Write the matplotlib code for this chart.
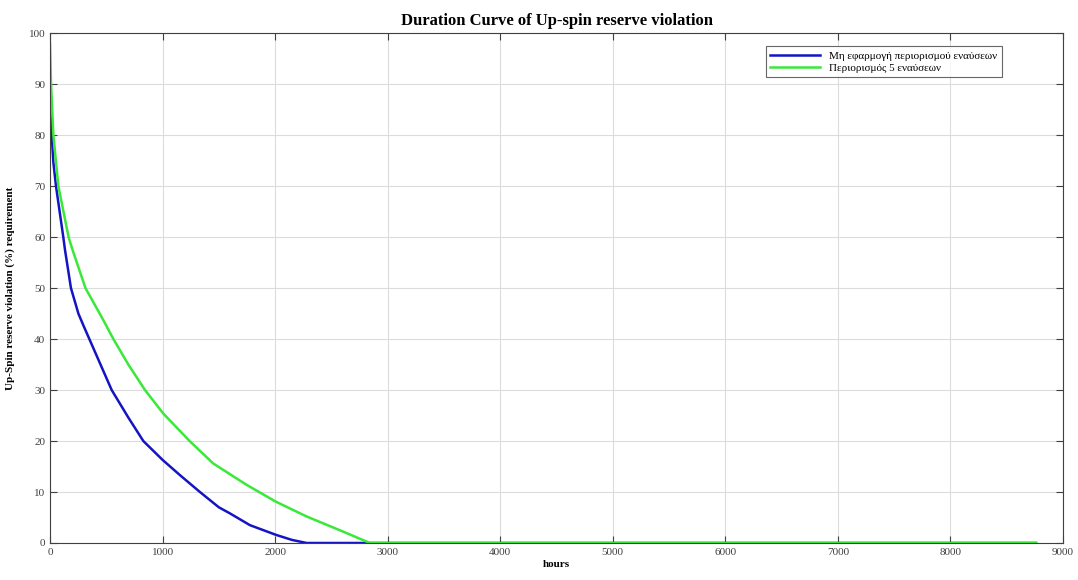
import matplotlib
matplotlib.use("Agg")
import matplotlib.pyplot as plt
from matplotlib.ticker import MultipleLocator

# duration curve points, hours vs. violation (%)
base_hours = [0, 15, 30, 53, 118, 133, 186, 252, 300, 548, 696, 829, 1000, 1155, 1332, 1500, 1599, 1776, 2007, 2150, 2280, 8760]
base_values = [85.5, 80, 74.6, 70, 60, 57.5, 50, 45, 42.5, 30, 24.6, 20, 16.3, 13.3, 10, 7.0, 5.8, 3.5, 1.6, 0.6, 0, 0]
limit_hours = [0, 9, 30, 74, 165, 200, 315, 474, 563, 696, 844, 1006, 1240, 1450, 1747, 2007, 2280, 2575, 2842, 8760]
limit_values = [98, 90, 80, 70, 60, 57.5, 50, 43.7, 40, 35, 30, 25.4, 20, 15.6, 11.4, 8.1, 5.2, 2.5, 0, 0]
labels = ["Μη εφαρμογή περιορισμού εναύσεων", "Περιορισμός 5 εναύσεων"]

plt.rcParams["font.family"] = ["Liberation Serif", "DejaVu Serif"]

figure = plt.figure(figsize = (10.78, 5.8), dpi = 100)
axes = figure.add_axes([0.0464, 0.0638, 0.9397, 0.879])
axes.plot(base_hours, base_values, color = "#1414c4", linewidth = 1.8, label = labels[0])
axes.plot(limit_hours, limit_values, color = "#3ae83a", linewidth = 1.8, label = labels[1])

axes.set_xlim(0, 9000)
axes.set_ylim(0, 100)
axes.xaxis.set_major_locator(MultipleLocator(1000))
axes.yaxis.set_major_locator(MultipleLocator(10))
axes.grid(True, color = "#dcdcdc", linewidth = 0.8)
axes.tick_params(direction = "in", top = True, right = True, labelsize = 8, colors = "#404040", length = 5)
for spine in axes.spines.values():
    spine.set_color("#404040")
    spine.set_linewidth(0.8)

axes.set_title("Duration Curve of Up-spin reserve violation", fontsize = 12, fontweight = "bold", pad = 6)
axes.set_xlabel("hours", fontsize = 8, fontweight = "bold", labelpad = 2)
axes.set_ylabel("Up-Spin reserve violation (%) requirement", fontsize = 8, fontweight = "bold", labelpad = 10)

legend = axes.legend(loc = "upper right", bbox_to_anchor = (0.945, 0.985), fontsize = 8, fancybox = False,
                     edgecolor = "#404040", handlelength = 4.5, borderpad = 0.4, labelspacing = 0.2)
legend.get_frame().set_linewidth(0.8)

figure.savefig("out.png", dpi = 100)
